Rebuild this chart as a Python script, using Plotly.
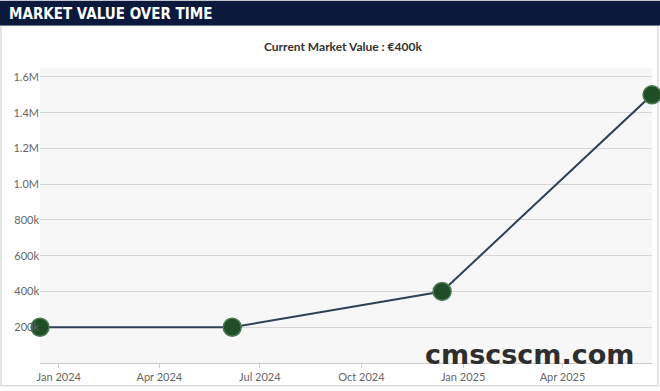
import plotly.graph_objects as go

dates = ["2023-12-15", "2024-06-06", "2024-12-13", "2025-06-21"]
values = [200000, 200000, 400000, 1500000]
ytick_vals = [200000, 400000, 600000, 800000, 1000000, 1200000, 1400000, 1600000]
ytick_text = ["200k", "400k", "600k", "800k", "1.0M", "1.2M", "1.4M", "1.6M"]
header_title = "MARKET VALUE OVER TIME"
chart_title = "Current Market Value : €400k"
watermark = "cmscscm.com"

W, H = 660, 391
L, R, T, B = 40, 8, 68, 25
pw, ph = W - L - R, H - T - B

def px(x):
    return (x - L) / pw

def py(y):
    return 1 - (y - T) / ph

fig = go.Figure()
fig.add_trace(go.Scatter(
    x=dates, y=values, mode="lines+markers",
    line=dict(color="#2f4158", width=2),
    marker=dict(size=18, color="#1f4d26", line=dict(color="#4d7a52", width=1.5)),
    cliponaxis=False, hoverinfo="x+y",
))

shapes = [
    dict(type="rect", xref="paper", yref="paper", x0=px(1), x1=px(658), y0=py(389), y1=py(25),
         line=dict(color="#dcdcdc", width=1.5), fillcolor="rgba(0,0,0,0)", layer="below"),
    dict(type="rect", xref="paper", yref="paper", x0=px(0), x1=px(660), y0=py(25), y1=py(0),
         line=dict(width=0), fillcolor="#0b1a3c", layer="above"),
]

annotations = [
    dict(text="<b>" + header_title + "</b>", xref="paper", yref="paper", x=px(7), y=py(13), xanchor="left", yanchor="middle",
         showarrow=False, font=dict(family="DejaVu Sans Condensed, Liberation Sans Narrow, sans-serif", size=15, color="white")),
    dict(text="<b>" + chart_title + "</b>", xref="paper", yref="paper", x=px(343), y=py(46), xanchor="center", yanchor="middle",
         showarrow=False, font=dict(family="Lato, sans-serif", size=12, color="#333333")),
    dict(text="<b>" + watermark + "</b>", xref="paper", yref="paper", x=px(529), y=py(357), xanchor="center", yanchor="middle",
         showarrow=False, font=dict(family="DejaVu Sans, Arial Black, sans-serif", size=27, color="#2e2e2e")),
]

fig.update_layout(
    width=W, height=H,
    margin=dict(l=L, r=R, t=T, b=B),
    paper_bgcolor="white", plot_bgcolor="#f7f7f7",
    showlegend=False,
    shapes=shapes, annotations=annotations,
    font=dict(family="Lato, sans-serif", size=11, color="#666666"),
    xaxis=dict(
        type="date", range=[dates[0], dates[-1]],
        tick0="2024-01-01", dtick="M3", tickformat="%b %Y",
        showgrid=False, zeroline=False,
        showline=True, linecolor="#cccccc", linewidth=1,
        ticks="outside", ticklen=4, tickcolor="#cccccc",
        tickfont=dict(size=11, color="#666666"),
    ),
    yaxis=dict(
        range=[0, 1650000],
        tickvals=ytick_vals, ticktext=ytick_text,
        showgrid=True, gridcolor="#d6d6d6", gridwidth=1,
        zeroline=False, showline=False, ticks="",
        tickfont=dict(size=11, color="#666666"),
    ),
)

fig.write_html("out.html", config={"displayModeBar": False},
               post_script="document.body.style.margin='0';document.body.style.padding='0';")
